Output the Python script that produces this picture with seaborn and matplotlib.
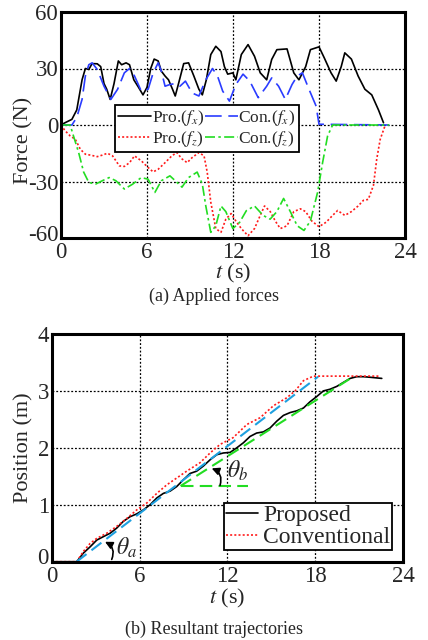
import numpy as np
import pandas as pd
import matplotlib
matplotlib.use("Agg")
import matplotlib.pyplot as plt
import matplotlib.transforms as mtransforms
import seaborn as sns

sns.set_style("white")
plt.rcParams['font.family'] = ['Liberation Serif', 'DejaVu Serif']
plt.rcParams['mathtext.fontset'] = 'stix'

# ---------------- (a) Applied forces ----------------
t_pro_fx = [0, 0.28, 0.76, 1.1, 1.47, 1.7, 1.94, 2.17, 2.53, 2.77, 3.0, 3.19, 3.43, 3.7, 4.0, 4.23,
            4.54, 4.78, 5.08, 5.41, 5.72, 6.0, 6.26, 6.5, 6.78, 7.0, 7.26, 7.5, 7.78, 7.97, 8.2, 8.56,
            8.9, 9.27, 9.62, 9.86, 10.14, 10.45, 10.8, 11.16, 11.4, 11.63, 11.99, 12.2, 12.58, 13.05,
            13.5, 13.9, 14.35, 14.7, 15.06, 15.77, 16.24, 16.6, 17.07, 17.4, 18.0, 18.37, 18.84, 19.2,
            19.55, 19.8, 20.26, 20.73, 21.2, 21.68, 22.15, 22.5]
f_pro_fx = [0, 1.2, 3, 8, 24, 30, 29.5, 32.6, 32.5, 31, 22, 19, 13.6, 22, 34, 32,
            33, 32, 24, 20, 16, 20, 30, 35, 34, 28.6, 26, 24, 19, 15.4, 22, 32.6,
            33, 26, 19, 16, 24, 37.4, 41.8, 39, 31, 27, 27.7, 24, 37.4, 42.7,
            36.5, 27.7, 24, 34.8, 40, 40.4, 27.7, 24, 31, 40, 41.5, 35.6, 27.7, 23.3,
            31, 38.3, 35, 26, 19, 16, 8, 1.2]

t_con_fx = [0, 0.76, 1.1, 1.47, 1.7, 1.94, 2.17, 2.53, 3.0, 3.48, 3.95, 4.42, 4.78, 5.13, 5.6,
            6.08, 6.43, 6.78, 7.0, 7.26, 7.6, 7.97, 8.3, 8.68, 9.15, 9.62, 10.1, 10.57, 10.92,
            11.28, 11.75, 12.2, 12.7, 13.17, 13.76, 14.35, 14.7, 15.18, 15.65, 16.12, 16.48,
            16.84, 17.3, 17.8, 18.0, 22.9]
f_con_fx = [0, 0, 4, 13.6, 26, 32, 33, 29.5, 20.6, 13.6, 19, 27.7, 30, 26, 18,
            19, 27.7, 33, 28.6, 20.6, 21.5, 22, 20.6, 23.3, 17, 15.4, 24, 30, 26,
            18, 12.7, 21.5, 27, 23.3, 14.5, 20.6, 25, 20.6, 13.6, 21.5, 26,
            27.7, 19, 10, 0.4, 0]

t_pro_fz = [0, 0.28, 0.64, 1.0, 1.35, 1.7, 2.06, 2.53, 2.88, 3.24, 3.6, 4.07, 4.42, 4.78, 5.13,
            5.6, 6.08, 6.43, 6.78, 7.26, 7.73, 8.08, 8.44, 8.8, 9.15, 9.62, 9.98, 10.2, 10.45,
            10.8, 11.16, 11.5, 11.87, 12.2, 12.58, 13.05, 13.5, 13.9, 14.2, 14.6, 14.95, 15.3,
            15.77, 16.24, 16.7, 17.07, 17.5, 18.0, 18.5, 18.95, 19.3, 19.8, 20.26, 20.73, 21.1,
            21.44, 21.8, 22.03, 22.27, 22.6]
f_pro_fz = [0, -3, -5.8, -7.6, -12.9, -15.5, -16, -16.8, -16, -15, -16.4, -21.7, -22, -20, -16.4,
            -19, -22.6, -24.9, -23.5, -20, -16.4, -14.6, -18, -20, -17.3, -14.6, -16.4, -25, -41,
            -55, -57, -50, -47, -51, -55, -58.8, -55, -48, -43, -46, -51, -55,
            -53.5, -46, -44.5, -46, -51, -54, -51.6, -48, -45.4, -48, -46, -43, -40,
            -39.5, -32, -18, -7.6, -0.5]

t_con_fz = [0, 0.64, 0.87, 1.23, 1.58, 1.94, 2.41, 2.88, 3.36, 3.83, 4.42, 5.0, 5.6, 6.08, 6.55,
            7.0, 7.6, 7.97, 8.44, 8.9, 9.5, 9.86, 10.1, 10.45, 10.8, 11.16, 11.5, 11.99, 12.46,
            12.93, 13.5, 14.1, 14.59, 15.06, 15.53, 16.0, 16.48, 16.95, 17.4, 17.9, 18.25, 18.6,
            18.95, 22.9]
f_con_fz = [0, 0, -5.8, -14.6, -25, -30.5, -31.4, -29.6, -27.9, -29.6, -34, -31.4, -27.9, -28.8, -35.8,
            -29.6, -27, -29.6, -33, -27.9, -25, -31.4, -42.9, -57, -53.5, -43, -46, -55, -51.7,
            -45.5, -43, -48, -50, -46, -39, -46, -53.5, -56, -51, -35.8, -20, -5.8,
            0, 0]

# ---------------- (b) Resultant trajectories ----------------
t_prop = [0, 1.71, 2.16, 2.62, 3.08, 3.53, 3.99, 4.44, 4.9, 5.35, 5.81, 6.26, 6.72, 7.18, 7.63,
          8.09, 8.54, 9.0, 9.45, 9.9, 10.36, 10.82, 11.28, 11.73, 12.19, 12.64, 13.1, 13.55, 14.0,
          14.46, 14.92, 15.38, 15.83, 16.29, 16.74, 17.2, 17.65, 18.1, 18.56, 19.02, 19.48, 19.93,
          20.39, 20.84, 21.3, 21.75, 22.55]
p_prop = [0, 0, 0.15, 0.26, 0.38, 0.44, 0.5, 0.59, 0.71, 0.79, 0.84, 0.91, 1.0, 1.12, 1.2,
          1.24, 1.32, 1.44, 1.55, 1.59, 1.68, 1.79, 1.88, 1.91, 1.92, 2.0, 2.09, 2.2, 2.26,
          2.28, 2.35, 2.47, 2.57, 2.62, 2.65, 2.7, 2.81, 2.9, 3.0, 3.03, 3.08, 3.15,
          3.22, 3.25, 3.25, 3.24, 3.22]

t_conv = [0, 1.71, 2.16, 2.62, 3.08, 3.76, 4.44, 5.13, 5.81, 6.49, 7.18, 7.86, 8.54, 9.22, 10.14,
          10.82, 11.5, 12.4, 13.33, 14.24, 15.15, 16.06, 16.63, 17.2, 17.88, 18.34, 22.4]
p_conv = [0, 0, 0.18, 0.32, 0.41, 0.5, 0.62, 0.76, 0.91, 1.03, 1.2, 1.35, 1.47, 1.59, 1.74,
          1.91, 2.06, 2.18, 2.41, 2.53, 2.74, 2.88, 3.0, 3.18, 3.26, 3.26, 3.26]

# slope guide lines
t_guide_a = [1.7, 18.2]
p_guide_a = [0.0, 3.25]
t_base_a = [1.7, 5.2]
p_base_a = [0.0, 0.0]
t_guide_b = [8.8, 20.6]
p_guide_b = [1.33, 3.25]
t_base_b = [8.8, 13.4]
p_base_b = [1.33, 1.33]

fig = plt.figure(figsize=(4.28, 6.4), dpi=100)
ax1 = fig.add_axes([61/428, 1 - 238/640, 344/428, 226/640])
ax2 = fig.add_axes([51.7/428, 1 - 561.7/640, 351.3/428, 227.7/640])

lw = 1.2
dot = (0, (1.2, 1.3))
dash = (0, (10, 4))
dashdot = (0, (6, 2, 1.5, 2))

h1 = sns.lineplot(x=t_pro_fx, y=f_pro_fx, ax=ax1, color='black', lw=lw, sort=False, estimator=None).lines[-1]
h2 = sns.lineplot(x=t_con_fx, y=f_con_fx, ax=ax1, color='#2a3cff', lw=lw, linestyle=dash, sort=False, estimator=None).lines[-1]
h3 = sns.lineplot(x=t_pro_fz, y=f_pro_fz, ax=ax1, color='#ff1a1a', lw=lw, linestyle=dot, sort=False, estimator=None).lines[-1]
h4 = sns.lineplot(x=t_con_fz, y=f_con_fz, ax=ax1, color='#22dd22', lw=lw, linestyle=dashdot, sort=False, estimator=None).lines[-1]

ax1.set_xlim(0, 24)
ax1.set_ylim(-60, 60)
ax1.set_xticks([0, 6, 12, 18, 24])
ax1.set_yticks([-60, -30, 0, 30, 60])
ax1.set_yticklabels(['-60', '-30', '0', '30', '60'])
ax1.set_xlabel(r'$t$ (s)', fontsize=16)
ax1.set_ylabel('Force (N)', fontsize=16)
ax1.xaxis.set_label_coords(0.5, (238 - 262) / 226)
ax1.yaxis.set_label_coords((33 - 61) / 344, (238 - 140) / 226)
leg1 = ax1.legend([h1, h3, h2, h4],
                  [r'Pro.($f_x$)', r'Pro.($f_z$)', r'Con.($f_x$)', r'Con.($f_z$)'],
                  ncol=2, fontsize=12.5, loc='upper left', bbox_to_anchor=(0.157, 0.59),
                  handlelength=1.9, handletextpad=0.05, columnspacing=0.0,
                  borderpad=0.2, labelspacing=0.05, borderaxespad=0,
                  fancybox=False, framealpha=1, edgecolor='black')
leg1.get_frame().set_linewidth(1.3)

hp = sns.lineplot(x=t_prop, y=p_prop, ax=ax2, color='black', lw=lw, sort=False, estimator=None).lines[-1]
hc = sns.lineplot(x=t_conv, y=p_conv, ax=ax2, color='#ff1a1a', lw=lw, linestyle=dot, sort=False, estimator=None).lines[-1]
sns.lineplot(x=t_guide_a, y=p_guide_a, ax=ax2, color='#1ea0e0', lw=1.5, linestyle=(0, (6, 3)), sort=False, estimator=None)
sns.lineplot(x=t_base_a, y=p_base_a, ax=ax2, color='#1ea0e0', lw=1.5, linestyle=(0, (6, 3)), sort=False, estimator=None)
sns.lineplot(x=t_guide_b, y=p_guide_b, ax=ax2, color='#22dd22', lw=1.5, linestyle=(0, (6, 3)), sort=False, estimator=None)
sns.lineplot(x=t_base_b, y=p_base_b, ax=ax2, color='#22dd22', lw=1.5, linestyle=(0, (6, 3)), sort=False, estimator=None)

ax2.annotate('', xy=(3.64, 0.35), xytext=(4.1, 0.04),
             arrowprops=dict(arrowstyle='-|>', connectionstyle='arc3,rad=0.45',
                             color='black', lw=1.2, mutation_scale=11, shrinkA=0, shrinkB=0))
ax2.annotate('', xy=(10.93, 1.64), xytext=(11.5, 1.34),
             arrowprops=dict(arrowstyle='-|>', connectionstyle='arc3,rad=0.45',
                             color='black', lw=1.2, mutation_scale=11, shrinkA=0, shrinkB=0))
ax2.text(5.1, 0.25, r'$\theta_a$', fontsize=17, ha='center', va='center')
ax2.text(12.7, 1.6, r'$\theta_b$', fontsize=17, ha='center', va='center')

ax2.set_xlim(0, 24)
ax2.set_ylim(0, 4)
ax2.set_xticks([0, 6, 12, 18, 24])
ax2.set_yticks([0, 1, 2, 3, 4])
ax2.set_xlabel(r'$t$ (s)', fontsize=16)
ax2.set_ylabel('Position (m)', fontsize=16)
ax2.xaxis.set_label_coords(0.5, (561.7 - 587) / 227.7)
ax2.yaxis.set_label_coords((33 - 51.7) / 351.3, (561.7 - 448) / 227.7)
leg2 = ax2.legend([hp, hc], ['Proposed', 'Conventional'], fontsize=17,
                  loc='lower right', bbox_to_anchor=(0.97, 0.05),
                  handlelength=1.35, handletextpad=0.2, borderpad=0.1,
                  labelspacing=0.0, borderaxespad=0,
                  fancybox=False, framealpha=1, edgecolor='black')
leg2.get_frame().set_linewidth(1.3)

for ax in (ax1, ax2):
    ax.grid(True, color='black', linestyle=(0, (1.5, 1.5)), linewidth=0.9)
    ax.set_axisbelow(True)
    for s in ax.spines.values():
        s.set_linewidth(2.2)
        s.set_color('black')
    ax.tick_params(axis='both', labelsize=16.5, length=0)
    ax.tick_params(axis='x', pad=3)
    ax.tick_params(axis='y', pad=2)

# lift the lowest y tick label slightly (as in the reference)
for ax, dy in ((ax1, 5), (ax2, 6)):
    lab = ax.yaxis.get_major_ticks()[0].label1
    lab.set_transform(lab.get_transform() +
                      mtransforms.ScaledTranslation(0, dy / 100, fig.dpi_scale_trans))

fig.text(0.5, 1 - 296/640, '(a) Applied forces', ha='center', va='center', fontsize=13)
fig.text(0.5, 1 - 629/640, '(b) Resultant trajectories', ha='center', va='center', fontsize=13)

fig.savefig('out.png', dpi=100)
